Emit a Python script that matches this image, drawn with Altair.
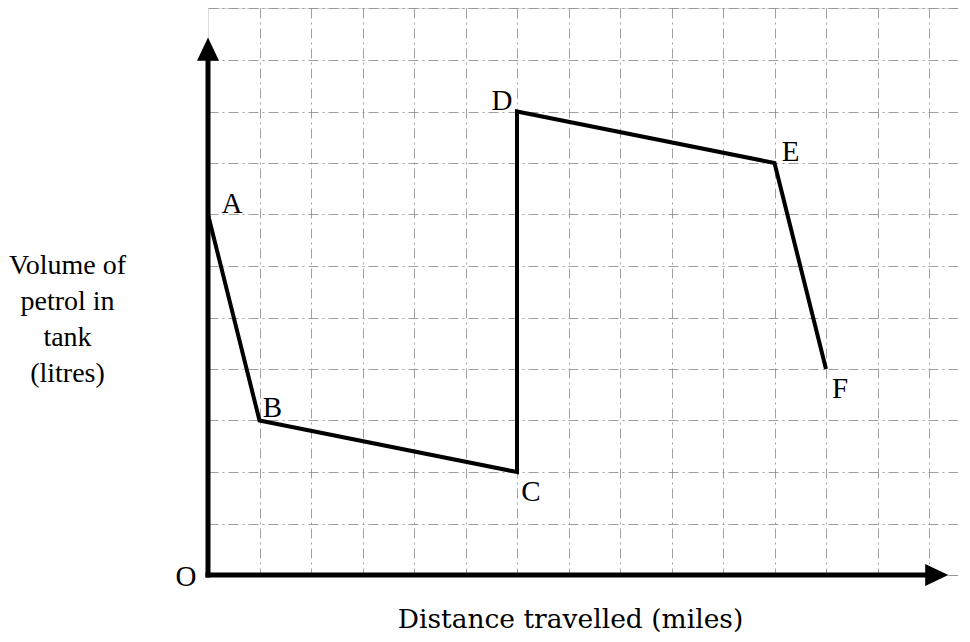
import altair as alt
import pandas as pd

# --- data (grid units) ---
distance = [0, 1, 6, 6, 11, 12]
volume = [7, 3, 2, 9, 8, 4]
labels = ["A", "B", "C", "D", "E", "F"]

x_grid = list(range(1, 15))
y_grid = list(range(0, 12))

FONT = "Liberation Serif"
UNIT = 51.5
W, H = 750, 567
XMAX = W / UNIT
YMAX = H / UNIT

df = pd.DataFrame({"distance": distance, "volume": volume,
                   "label": labels, "order": list(range(len(labels)))})

xs = alt.Scale(domain=[0, XMAX], nice=False, zero=False)
ys = alt.Scale(domain=[0, YMAX], nice=False, zero=False)

grid_style = dict(grid=True, labels=False, ticks=False, domain=False,
                  gridDash=[10, 4, 2, 4], gridColor="#888", gridWidth=1,
                  gridOpacity=0.8, titleFontWeight="normal", titleColor="black")

X = alt.X("distance:Q", scale=xs)
Y = alt.Y("volume:Q", scale=ys)

line = alt.Chart(df).mark_line(color="black", strokeWidth=4, strokeJoin="miter").encode(
    x=alt.X("distance:Q", scale=xs,
            axis=alt.Axis(values=x_grid, title="Distance travelled (miles)",
                          titleFont="DejaVu Serif", titleFontSize=26.5,
                          titleX=362, titleY=52, titleAlign="center",
                          titleBaseline="alphabetic", **grid_style)),
    y=alt.Y("volume:Q", scale=ys,
            axis=alt.Axis(values=y_grid,
                          title=["Volume of", "petrol in", "tank", "(litres)"],
                          titleFont=FONT, titleFontSize=28,
                          titleAngle=0, titleX=-141, titleY=257,
                          titleAlign="center", titleBaseline="middle",
                          titleLineHeight=36, **grid_style)),
    order="order:O",
)

# axes with arrows
yaxis = alt.Chart(pd.DataFrame({"distance": [0], "volume": [-0.05], "volume2": [10.0]})).mark_rule(
    color="black", strokeWidth=5).encode(x=X, y=Y, y2="volume2:Q")
xaxis = alt.Chart(pd.DataFrame({"distance": [-0.05], "distance2": [13.95], "volume": [0]})).mark_rule(
    color="black", strokeWidth=5).encode(x=X, x2="distance2:Q", y=Y)

up_arrow = alt.Chart(pd.DataFrame({"distance": [0], "volume": [10.2]})).mark_point(
    shape="M-1,1L1,1L0,-1.1Z", filled=True, color="black", opacity=1, size=484).encode(x=X, y=Y)
right_arrow = alt.Chart(pd.DataFrame({"distance": [14.14], "volume": [0]})).mark_point(
    shape="M-1,-1L-1,1L1.1,0Z", filled=True, color="black", opacity=1, size=484).encode(x=X, y=Y)

# point labels
offsets = {"A": (24, -11), "B": (13, -13), "C": (14, 20),
           "D": (-15, -11), "E": (16, -11), "F": (14, 20)}
label_layers = []
for lab, (dx, dy) in offsets.items():
    label_layers.append(
        alt.Chart(df).transform_filter(alt.datum.label == lab).mark_text(
            font=FONT, fontSize=29, color="black", dx=dx, dy=dy,
            align="center", baseline="middle").encode(x=X, y=Y, text="label:N"))

origin = alt.Chart(pd.DataFrame({"distance": [0], "volume": [0], "label": ["O"]})).mark_text(
    font=FONT, fontSize=29, color="black", dx=-22, dy=2,
    align="center", baseline="middle").encode(x=X, y=Y, text="label:N")

chart = alt.layer(line, yaxis, xaxis, up_arrow, right_arrow, origin, *label_layers).properties(
    width=W, height=H,
    autosize=alt.AutoSizeParams(type="none"),
    padding={"left": 200, "top": 0, "right": 0, "bottom": 58},
).configure_view(strokeWidth=0).configure_axis(
    labels=False, ticks=False, domain=False
).configure(background="white")

chart.save("out.html", embed_options={"renderer": "svg", "actions": False})
